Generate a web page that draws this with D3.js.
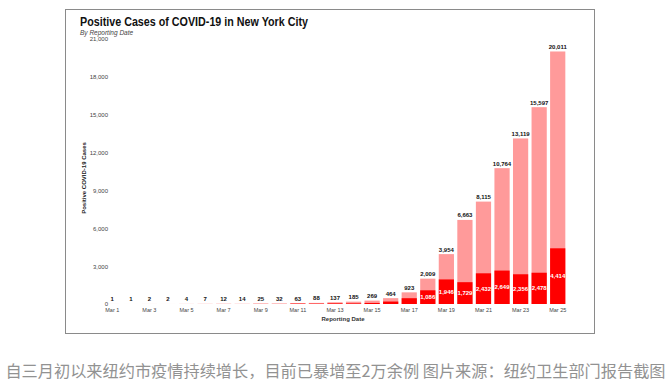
<!DOCTYPE html>
<html>
<head>
<meta charset="utf-8">
<script src="https://cdn.jsdelivr.net/npm/d3@7"></script>
<style>
  html, body { margin: 0; padding: 0; background: #fff; }
  svg { display: block; }
</style>
</head>
<body>
<svg id="chart" width="671" height="392"></svg>
<script>
// ---- data ----
const dates = ["Mar 1","Mar 2","Mar 3","Mar 4","Mar 5","Mar 6","Mar 7","Mar 8","Mar 9","Mar 10",
  "Mar 11","Mar 12","Mar 13","Mar 14","Mar 15","Mar 16","Mar 17","Mar 18","Mar 19","Mar 20",
  "Mar 21","Mar 22","Mar 23","Mar 24","Mar 25"];
const totalCases = [1,1,2,2,4,7,12,14,25,32,63,88,137,185,269,464,923,2009,3954,6663,8115,10764,13119,15597,20011];
const newCases = [1,0,1,0,2,3,5,2,11,7,31,25,49,48,84,195,459,1086,1946,1729,2432,2649,2356,2478,4414];
const yTicks = [0,3000,6000,9000,12000,15000,18000,21000];
const xTickLabels = ["Mar 1","Mar 3","Mar 5","Mar 7","Mar 9","Mar 11","Mar 13","Mar 15","Mar 17","Mar 19","Mar 21","Mar 23","Mar 25"];
const titleText = "Positive Cases of COVID-19 in New York City";
const subtitleText = "By Reporting Date";
const yTitle = "Positive COVID-19 Cases";
const xTitle = "Reporting Date";
const caption = "自三月初以来纽约市疫情持续增长，目前已暴增至2万余例 图片来源：纽约卫生部门报告截图";

const svg = d3.select("#chart");
const font = "'Liberation Sans', Arial, sans-serif";

// frame
svg.append("rect").attr("x", 65.5).attr("y", 9.5).attr("width", 529).attr("height", 324)
  .attr("fill", "#fff").attr("stroke", "#8a8a8a").attr("stroke-width", 1);

// title
svg.append("text").attr("x", 80).attr("y", 26).text(titleText)
  .attr("font-family", font).attr("font-weight", "bold").attr("font-size", 12.5).attr("fill", "#111")
  .attr("textLength", 228).attr("lengthAdjust", "spacingAndGlyphs");
svg.append("text").attr("x", 80).attr("y", 35).text(subtitleText)
  .attr("font-family", font).attr("font-style", "italic").attr("font-size", 6.5).attr("fill", "#444");

// scales
const x = d3.scaleBand().domain(dates).range([103, 567]).paddingInner(0.18).paddingOuter(0.09);
const y = d3.scaleLinear().domain([0, 21000]).range([304, 39]);

// y axis
const yAxis = svg.append("g").attr("transform", "translate(108,0)")
  .call(d3.axisLeft(y).tickValues(yTicks).tickSize(0).tickPadding(0).tickFormat(d3.format(",")));
yAxis.select(".domain").remove();
yAxis.selectAll("text").attr("font-family", font).attr("font-size", 6).attr("fill", "#444");

// x axis
const xAxis = svg.append("g").attr("transform", "translate(0,305)")
  .call(d3.axisBottom(x).tickValues(xTickLabels).tickSize(0).tickPadding(3));
xAxis.select(".domain").remove();
xAxis.selectAll("text").attr("font-family", font).attr("font-size", 5.5).attr("fill", "#444");

// bars: total (light)
svg.append("g").selectAll("rect").data(dates).join("rect")
  .attr("x", d => x(d)).attr("width", x.bandwidth())
  .attr("y", (d, i) => y(totalCases[i])).attr("height", (d, i) => y(0) - y(totalCases[i]))
  .attr("fill", "#ff9a9a");
// bars: new (dark)
svg.append("g").selectAll("rect").data(dates).join("rect")
  .attr("x", d => x(d)).attr("width", x.bandwidth())
  .attr("y", (d, i) => y(newCases[i])).attr("height", (d, i) => y(0) - y(newCases[i]))
  .attr("fill", "#ff0000");

// total labels
svg.append("g").selectAll("text").data(dates).join("text")
  .attr("x", d => x(d) + x.bandwidth() / 2).attr("y", (d, i) => y(totalCases[i]) - 2.5)
  .attr("text-anchor", "middle").text((d, i) => d3.format(",")(totalCases[i]))
  .attr("font-family", font).attr("font-weight", "bold").attr("font-size", 6).attr("fill", "#111");

// new-case labels (only large enough bars)
svg.append("g").selectAll("text").data(dates.filter((d, i) => newCases[i] >= 1000)).join("text")
  .attr("x", d => x(d) + x.bandwidth() / 2)
  .attr("y", d => { const v = newCases[dates.indexOf(d)]; return (y(v) + y(0)) / 2 + 2; })
  .attr("text-anchor", "middle").text(d => d3.format(",")(newCases[dates.indexOf(d)]))
  .attr("font-family", font).attr("font-weight", "bold").attr("font-size", 6).attr("fill", "#fff");

// axis titles
svg.append("text").attr("transform", "translate(86,178) rotate(-90)").attr("text-anchor", "middle")
  .text(yTitle).attr("font-family", font).attr("font-weight", "bold").attr("font-size", 6).attr("fill", "#222");
svg.append("text").attr("x", 343).attr("y", 321).attr("text-anchor", "middle")
  .text(xTitle).attr("font-family", font).attr("font-weight", "bold").attr("font-size", 6).attr("fill", "#333");

// caption
svg.append("text").attr("x", 335.5).attr("y", 377).attr("text-anchor", "middle")
  .text(caption).attr("font-family", "'Noto Sans CJK SC', sans-serif").attr("font-size", 16.2).attr("fill", "#929292");
</script>
</body>
</html>
